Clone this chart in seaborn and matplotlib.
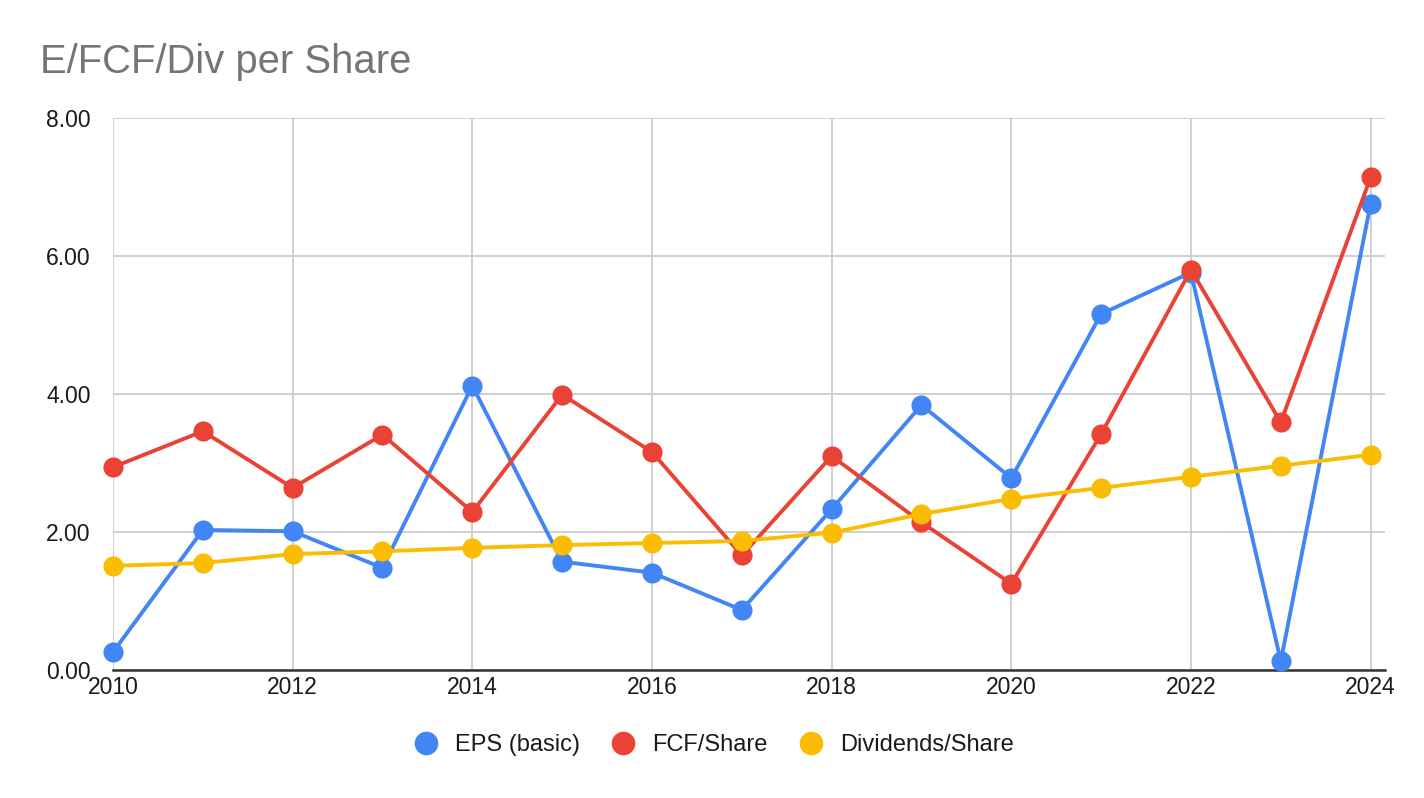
import pandas as pd
import seaborn as sns
import matplotlib.pyplot as plt
from matplotlib.lines import Line2D

years = list(range(2010, 2025))
eps = [0.26, 2.03, 2.01, 1.48, 4.12, 1.57, 1.41, 0.87, 2.33, 3.84, 2.78, 5.16, 5.76, 0.13, 6.76]
fcf = [2.94, 3.46, 2.64, 3.41, 2.29, 3.99, 3.16, 1.66, 3.10, 2.14, 1.25, 3.42, 5.80, 3.59, 7.14]
divs = [1.51, 1.55, 1.68, 1.72, 1.77, 1.81, 1.84, 1.87, 1.99, 2.26, 2.48, 2.64, 2.80, 2.96, 3.12]
series_names = ['EPS (basic)', 'FCF/Share', 'Dividends/Share']

df = pd.DataFrame({'Year': years, series_names[0]: eps, series_names[1]: fcf, series_names[2]: divs})
df = df.melt(id_vars='Year', var_name='Series', value_name='Value')

colors = ['#4285F4', '#EA4335', '#FBBC04']
palette = dict(zip(series_names, colors))

sns.set_style("white")
plt.rcParams['font.family'] = ['Liberation Sans', 'DejaVu Sans']

fig = plt.figure(figsize=(14.24, 7.98), dpi=100)
ax = fig.add_axes([113/1424, 1-670/798, (1385-113)/1424, (670-118)/798])

sns.lineplot(data=df, x='Year', y='Value', hue='Series', palette=palette, marker='o',
             markersize=14.5, markeredgewidth=0, linewidth=2.8, ax=ax, legend=False, clip_on=False, zorder=3)

ax.set_xlim(2010, 2024.16)
ax.set_ylim(0, 8)
ax.set_xticks(range(2010, 2025, 2))
ax.set_yticks([0, 2, 4, 6, 8])
ax.set_yticklabels([f'{v:.2f}' for v in [0, 2, 4, 6, 8]])
ax.grid(True, color='#cccccc', linewidth=1.3)
ax.set_axisbelow(True)
for s in ['top', 'right', 'left']:
    ax.spines[s].set_visible(False)
ax.spines['bottom'].set_color('#333333')
ax.spines['bottom'].set_linewidth(1.8)
ax.tick_params(axis='y', length=13, color='#cccccc', width=1.3, labelsize=16.5, pad=3, labelcolor='#1a1a1a')
ax.tick_params(axis='x', length=0, labelsize=16.5, pad=4, labelcolor='#1a1a1a')
ax.set_xlabel('')
ax.set_ylabel('')

fig.text(40/1424, 1-62/798, 'E/FCF/Div per Share', fontsize=28.8, color='#757575', va='center', ha='left')

# legend along the bottom
handles = [Line2D([], [], marker='o', linestyle='none', markersize=17, color=c, markeredgewidth=0) for c in colors]
fig.legend(handles, series_names, loc='center', bbox_to_anchor=(708/1424, 1-745/798), ncol=3, frameon=False,
           fontsize=17, handletextpad=0.22, columnspacing=0.85, labelcolor='#1a1a1a')

fig.savefig('out.png', dpi=100)
